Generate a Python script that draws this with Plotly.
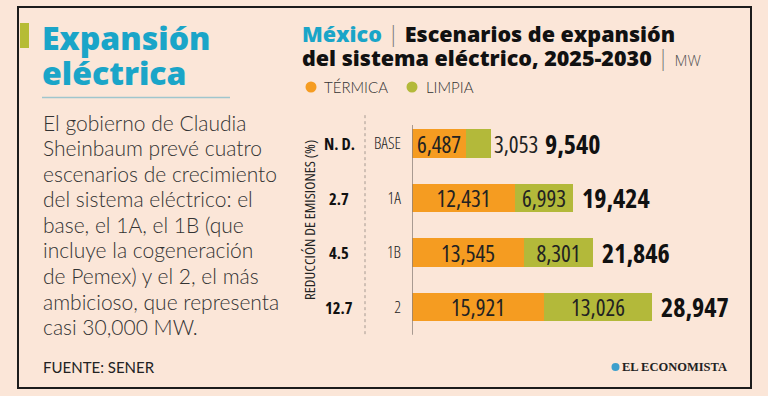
import plotly.graph_objects as go

# ---- data ----
scenarios = ["BASE", "1A", "1B", "2"]
reduction = ["N. D.", "2.7", "4.5", "12.7"]
termica = [6487, 12431, 13545, 15921]
limpia = [3053, 6993, 8301, 13026]
totals = [9540, 19424, 21846, 28947]
series_names = ["TÉRMICA", "LIMPIA"]
body_lines = [
    "El gobierno de Claudia",
    "Sheinbaum prevé cuatro",
    "escenarios de crecimiento",
    "del sistema eléctrico: el",
    "base, el 1A, el 1B (que",
    "incluye la cogeneración",
    "de Pemex) y el 2, el más",
    "ambicioso, que representa",
    "casi 30,000 MW.",
]

W, H = 768, 396
BG = "#fbe6d8"
ORANGE = "#f59c21"
GREEN = "#b3b93a"
CYAN = "#1aa5c8"
COND = "Open Sans"
BODY = "Lato, Open Sans, sans-serif"


def cond(s, extra=""):
    return f"<span style='font-stretch:condensed;{extra}'>{s}</span>"


def px(x):
    return x / W


def py(y):
    return 1 - y / H


fig = go.Figure()
fig.add_trace(go.Bar(
    y=scenarios, x=termica, orientation="h", name=series_names[0],
    marker=dict(color=ORANGE, line=dict(width=0)), width=0.52,
    text=[cond(f"{v:,}") for v in termica], textposition="inside",
    insidetextanchor="middle", constraintext="none",
    textfont=dict(family=COND, size=23, color="#222", weight=400),
    showlegend=False, hoverinfo="skip",
))
fig.add_trace(go.Bar(
    y=scenarios, x=limpia, orientation="h", name=series_names[1],
    marker=dict(color=GREEN, line=dict(width=0)), width=0.52,
    text=[cond(f"{v:,}") for v in limpia],
    textposition=["outside", "inside", "inside", "inside"],
    insidetextanchor="middle", constraintext="none",
    textfont=dict(family=COND, size=23, color="#222", weight=400),
    cliponaxis=False, showlegend=False, hoverinfo="skip",
))

annotations = []
# totals
for i, t in enumerate(totals):
    annotations.append(dict(
        x=t, y=i, xref="x", yref="y", text=cond(f"{t:,}"), showarrow=False,
        xanchor="left", yanchor="middle", xshift=52 if i == 0 else 7,
        font=dict(family=COND, size=26, color="#111", weight=700),
    ))
# reduction labels
for i, r in enumerate(reduction):
    annotations.append(dict(
        x=px(339), y=i, xref="paper", yref="y", text=cond(r),
        showarrow=False, xanchor="center", yanchor="middle",
        font=dict(family=COND, size=16.5, color="#111", weight=700),
    ))
annotations.append(dict(
    x=px(309), y=py(220), xref="paper", yref="paper",
    text=cond("REDUCCIÓN DE EMISIONES (%)"), textangle=-90, showarrow=False,
    xanchor="center", yanchor="middle",
    font=dict(family=COND, size=15, color="#222", weight=400),
))
# left titles
annotations.append(dict(
    x=px(40), y=py(38), xref="paper", yref="paper", text="Expansión",
    showarrow=False, xanchor="left", yanchor="middle",
    font=dict(family="Open Sans", size=32, color=CYAN, weight=800),
))
annotations.append(dict(
    x=px(40), y=py(72), xref="paper", yref="paper", text="eléctrica",
    showarrow=False, xanchor="left", yanchor="middle",
    font=dict(family="Open Sans", size=32, color=CYAN, weight=800),
))
for k, line in enumerate(body_lines):
    annotations.append(dict(
        x=px(41), y=py(122 + 25.6 * k), xref="paper", yref="paper", text=line,
        showarrow=False, xanchor="left", yanchor="middle",
        font=dict(family=BODY, size=21, color="#333333", weight=300),
    ))
annotations.append(dict(
    x=px(41), y=py(367), xref="paper", yref="paper", text="FUENTE: SENER",
    showarrow=False, xanchor="left", yanchor="middle",
    font=dict(family=BODY, size=15, color="#222"),
))
# right title
annotations.append(dict(
    x=px(300), y=py(33), xref="paper", yref="paper",
    text=f"<span style='color:{CYAN}'>México</span> "
         "<span style='color:#777;font-weight:300'>|</span> Escenarios de expansión",
    showarrow=False, xanchor="left", yanchor="middle",
    font=dict(family="Open Sans", size=21.5, color="#111", weight=800),
))
annotations.append(dict(
    x=px(300), y=py(58), xref="paper", yref="paper",
    text="del sistema eléctrico, 2025-2030 "
         "<span style='color:#777;font-weight:300'>|</span> "
         "<span style='font-size:15px;color:#555;font-weight:300'>MW</span>",
    showarrow=False, xanchor="left", yanchor="middle",
    font=dict(family="Open Sans", size=21.5, color="#111", weight=800),
))
# legend
for tx, name in [(322, series_names[0]), (424, series_names[1])]:
    annotations.append(dict(
        x=px(tx), y=py(87), xref="paper", yref="paper", text=name,
        showarrow=False, xanchor="left", yanchor="middle",
        font=dict(family=BODY, size=15, color="#333", weight=300),
    ))
# logo
annotations.append(dict(
    x=px(620), y=py(367), xref="paper", yref="paper", text="<b>EL ECONOMISTA</b>",
    showarrow=False, xanchor="left", yanchor="middle",
    font=dict(family="Liberation Serif", size=12.5, color="#222"),
))

shapes = [
    dict(type="rect", xref="paper", yref="paper", x0=px(18), x1=px(751),
         y0=py(388), y1=py(7), line=dict(color="#1c1c1c", width=2)),
    dict(type="rect", xref="paper", yref="paper", x0=px(20), x1=px(29),
         y0=py(48), y1=py(23), fillcolor="#b6bc35", line=dict(width=0)),
    dict(type="line", xref="paper", yref="paper", x0=px(42), x1=px(230),
         y0=py(97.5), y1=py(97.5), line=dict(color="#9fc6cd", width=1.5)),
    dict(type="line", xref="x", yref="y", x0=0, x1=0, y0=-0.34, y1=3.51,
         line=dict(color="#8c817a", width=1.5)),
    dict(type="line", xref="paper", yref="y", x0=px(365), x1=px(365),
         y0=-0.52, y1=3.51, line=dict(color="#a59a92", width=1, dash="dot")),
    dict(type="circle", xref="paper", yref="paper", x0=px(305.5), x1=px(316.5),
         y0=py(92.5), y1=py(81.5), fillcolor=ORANGE, line=dict(width=0)),
    dict(type="circle", xref="paper", yref="paper", x0=px(406.5), x1=px(417.5),
         y0=py(92.5), y1=py(81.5), fillcolor=GREEN, line=dict(width=0)),
    dict(type="circle", xref="paper", yref="paper", x0=px(611.5), x1=px(619.5),
         y0=py(371), y1=py(363), fillcolor="#3d9fcc", line=dict(width=0)),
]

fig.update_layout(
    template="none",
    width=W, height=H,
    margin=dict(l=0, r=0, t=0, b=0),
    paper_bgcolor=BG, plot_bgcolor="rgba(0,0,0,0)",
    barmode="stack", bargap=0,
    showlegend=False,
    xaxis=dict(domain=[px(412), 1], range=[0, 42938], showgrid=False,
               zeroline=False, showticklabels=False, ticks="",
               showline=False, automargin=False, fixedrange=True),
    yaxis=dict(domain=[0, 1], range=[4.633, -2.633], type="category",
               categoryorder="array", categoryarray=scenarios,
               tickmode="array", tickvals=scenarios,
               ticktext=[cond(s) for s in scenarios],
               showgrid=False, zeroline=False, ticks="", showline=False,
               ticklabelstandoff=10, automargin=False, fixedrange=True,
               tickfont=dict(family=COND, size=16.5, color="#222", weight=300)),
    annotations=annotations,
    shapes=shapes,
    uniformtext=dict(minsize=23, mode="show"),
)

fig.write_html("out.html", config={"displayModeBar": False},
               post_script="document.body.style.margin='0';document.body.style.overflow='hidden';")
